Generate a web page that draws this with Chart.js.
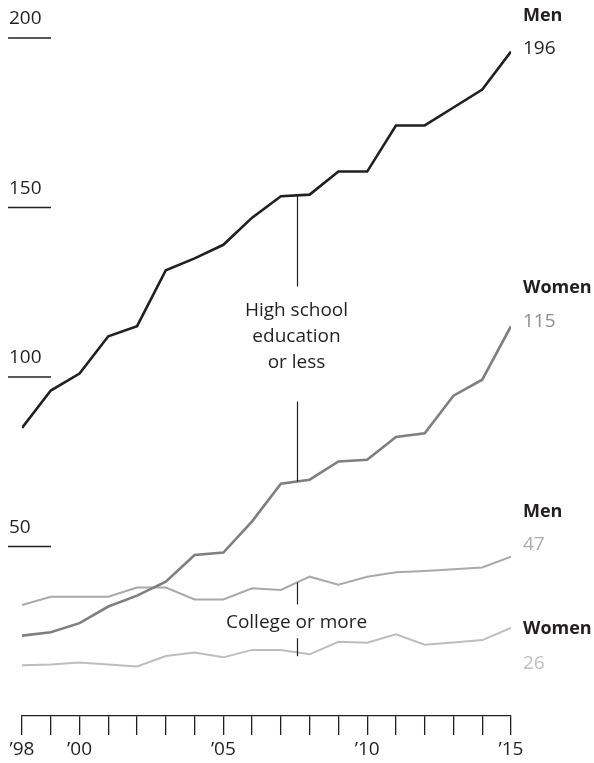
<!DOCTYPE html>
<html>
<head>
<meta charset="utf-8">
<script src="https://cdn.jsdelivr.net/npm/chart.js@4/dist/chart.umd.min.js"></script>
<style>
  body { margin: 0; background: #fff; }
</style>
</head>
<body>
<canvas id="chart" width="594" height="763"></canvas>
<script>
const years = [1998, 1999, 2000, 2001, 2002, 2003, 2004, 2005, 2006, 2007, 2008, 2009, 2010, 2011, 2012, 2013, 2014, 2015];
const menHighSchool = [85, 96, 101, 112, 115, 131.5, 135, 139, 147, 153.3, 153.8, 160.6, 160.6, 174.2, 174.2, 179.5, 184.8, 196];
const womenHighSchool = [23.7, 24.7, 27.4, 32.3, 35.5, 39.6, 47.5, 48.2, 57.4, 68.5, 69.7, 75.1, 75.6, 82.3, 83.4, 94.5, 99.2, 115];
const menCollege = [32.7, 35.2, 35.2, 35.2, 37.9, 37.9, 34.4, 34.4, 37.7, 37.2, 41.1, 38.7, 41.1, 42.4, 42.8, 43.3, 43.8, 47];
const womenCollege = [15.0, 15.2, 15.8, 15.2, 14.6, 17.7, 18.7, 17.3, 19.5, 19.5, 18.2, 21.9, 21.6, 24.1, 21.0, 21.7, 22.4, 26];
const yTicks = [50, 100, 150, 200];
const xLabelYears = [1998, 2000, 2005, 2010, 2015];

const INK = '#231f20';
const FONT = '"Open Sans", sans-serif';

const series = [
  { name: 'Men', data: menHighSchool, color: INK, width: 2.6, labelColor: INK, nameDy: -36, valueDy: -3 },
  { name: 'Women', data: womenHighSchool, color: '#7f7f7f', width: 2.6, labelColor: '#8c8c8c', nameDy: -38, valueDy: -5 },
  { name: 'Men', data: menCollege, color: '#a9a9a9', width: 2, labelColor: '#ababab', nameDy: -45, valueDy: -12 },
  { name: 'Women', data: womenCollege, color: '#bdbdbd', width: 2, labelColor: '#bdbdbd', nameDy: 1, valueDy: 36 }
];

function valueAt(arr, x) {
  const i = Math.floor(x - years[0]);
  const f = x - years[0] - i;
  return arr[i] + (arr[i + 1] - arr[i]) * f;
}

// y tick labels, end labels and the two annotations
const overlay = {
  id: 'overlay',
  afterDatasetsDraw(chart) {
    const c = chart.ctx;
    const xs = chart.scales.x;
    const ys = chart.scales.y;
    c.save();
    c.fillStyle = INK;
    c.strokeStyle = INK;
    c.lineWidth = 1.3;
    c.font = '19px ' + FONT;
    c.textAlign = 'left';
    c.textBaseline = 'alphabetic';

    yTicks.forEach(v => {
      const py = ys.getPixelForValue(v);
      c.fillText(String(v), 9, py - 14);
      c.beginPath();
      c.moveTo(8, py);
      c.lineTo(51, py);
      c.stroke();
    });

    // series end labels
    const lx = xs.right + 12;
    series.forEach(s => {
      const last = s.data[s.data.length - 1];
      const py = ys.getPixelForValue(last);
      c.textBaseline = 'middle';
      c.font = 'bold 18px ' + FONT;
      c.fillStyle = INK;
      c.fillText(s.name, lx, py + s.nameDy);
      c.font = '19px ' + FONT;
      c.fillStyle = s.labelColor;
      c.fillText(String(Math.round(last)), lx, py + s.valueDy);
    });

    // annotations
    const ax = 2007.55;
    const px = Math.round(xs.getPixelForValue(ax)) + 0.5;
    c.strokeStyle = INK;
    c.lineWidth = 1.2;
    c.fillStyle = INK;
    c.font = '19px ' + FONT;
    c.textAlign = 'center';
    c.textBaseline = 'middle';

    const hsTop = ys.getPixelForValue(valueAt(menHighSchool, ax));
    const hsBot = ys.getPixelForValue(valueAt(womenHighSchool, ax));
    const hsMid = (hsTop + hsBot) / 2;
    c.beginPath();
    c.moveTo(px, hsTop);
    c.lineTo(px, hsMid - 52);
    c.moveTo(px, hsMid + 63);
    c.lineTo(px, hsBot);
    c.stroke();
    ['High school', 'education', 'or less'].forEach((t, i) => {
      c.fillText(t, px - 1, hsMid - 28 + i * 26);
    });

    const coTop = ys.getPixelForValue(valueAt(menCollege, ax));
    const coBot = ys.getPixelForValue(valueAt(womenCollege, ax));
    c.beginPath();
    c.moveTo(px, coTop);
    c.lineTo(px, coTop + 22);
    c.moveTo(px, coBot - 14);
    c.lineTo(px, coBot + 4);
    c.stroke();
    c.fillText('College or more', px - 1, coTop + 40);

    c.restore();
  }
};

const ctx = document.getElementById('chart').getContext('2d');
new Chart(ctx, {
  type: 'line',
  data: {
    datasets: series.map(s => ({
      label: s.name,
      data: s.data.map((v, i) => ({ x: years[i], y: v })),
      borderColor: s.color,
      borderWidth: s.width,
      pointRadius: 0,
      tension: 0,
      fill: false
    }))
  },
  options: {
    responsive: false,
    animation: false,
    devicePixelRatio: 1,
    layout: { padding: { top: 38, left: 22, right: 83, bottom: 0 } },
    plugins: { legend: { display: false }, tooltip: { enabled: false } },
    scales: {
      x: {
        type: 'linear',
        min: 1998,
        max: 2015,
        afterFit(scale) { scale.height = 47; },
        border: { display: true, color: INK, width: 1.3 },
        grid: { drawOnChartArea: false, drawTicks: true, tickLength: 19, color: INK, lineWidth: 1.3 },
        ticks: {
          stepSize: 1,
          autoSkip: false,
          maxRotation: 0,
          padding: 3,
          color: INK,
          font: { family: FONT, size: 19 },
          callback: v => xLabelYears.includes(v) ? '\u2019' + String(v).slice(2) : ''
        }
      },
      y: {
        display: false,
        min: 0,
        max: 200
      }
    }
  },
  plugins: [overlay]
});
</script>
</body>
</html>
